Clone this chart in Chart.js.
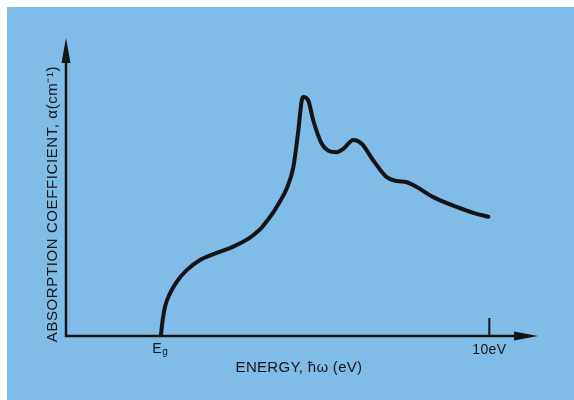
<!DOCTYPE html>
<html>
<head>
<meta charset="utf-8">
<script src="https://cdn.jsdelivr.net/npm/chart.js@4/dist/chart.umd.min.js"></script>
<style>
  html, body { margin: 0; padding: 0; background: #ffffff; }
  #wrap { width: 574px; height: 400px; position: relative; }
</style>
</head>
<body>
<div id="wrap"><canvas id="c" width="574" height="400"></canvas></div>
<script>
// Energy (eV) — band gap Eg and upper labelled energy
const EG = 2.24;
const E_MAX_LABEL = 10;
// Photon energy samples (eV)
const energy = [2.24, 2.284, 2.339, 2.457, 2.615, 2.851, 3.166, 3.560, 3.952, 4.347, 4.505, 4.623,
  4.748, 4.897, 5.056, 5.214, 5.370, 5.488, 5.568, 5.606, 5.724, 5.842, 6.041, 6.197, 6.395,
  6.551, 6.787, 6.986, 7.260, 7.576, 7.812, 8.049, 8.285, 8.677, 9.230, 9.622, 9.976];
// Absorption coefficient (arbitrary units)
const alpha = [0, 5.4, 9.8, 14.3, 18.2, 22.1, 25.5, 27.9, 30.0, 33.0, 34.8, 36.4,
  38.6, 41.5, 45.2, 49.5, 56.7, 69.0, 79.0, 80.2, 79.0, 72.3, 64.5, 62.2, 61.7,
  62.8, 65.8, 64.5, 58.9, 53.3, 52.0, 51.6, 50.0, 46.6, 43.3, 41.3, 40.0];
// Tick labels
const tickValues = [EG, E_MAX_LABEL];
const tickLabels = ['E', '10eV'];
const xTitle = 'ENERGY, ħω (eV)';
const yTitle = 'ABSORPTION COEFFICIENT, α(cm⁻¹)';

const INK = '#141414';
const FONT = '"Liberation Sans", Arial, Helvetica, sans-serif';

const decor = {
  id: 'decor',
  beforeDraw(chart) {
    const ctx = chart.ctx;
    ctx.save();
    ctx.fillStyle = '#ffffff';
    ctx.fillRect(0, 0, chart.width, chart.height);
    ctx.fillStyle = '#80bce8';
    ctx.fillRect(7, 7, chart.width - 7, chart.height - 7);
    ctx.restore();
  },
  afterDraw(chart) {
    const ctx = chart.ctx;
    const xs = chart.scales.x, ys = chart.scales.y;
    const x0 = xs.left, y0 = ys.bottom;
    const xEnd = xs.right, yTop = ys.top;
    ctx.save();
    ctx.strokeStyle = INK;
    ctx.fillStyle = INK;
    ctx.lineWidth = 2.5;
    // axes lines
    ctx.beginPath();
    ctx.moveTo(x0, yTop + 20);
    ctx.lineTo(x0, y0);
    ctx.lineTo(xEnd - 20, y0);
    ctx.stroke();
    // y arrow head
    ctx.beginPath();
    ctx.moveTo(x0, yTop);
    ctx.lineTo(x0 - 4.5, yTop + 25);
    ctx.lineTo(x0 + 4.5, yTop + 25);
    ctx.closePath();
    ctx.fill();
    // x arrow head
    ctx.beginPath();
    ctx.moveTo(xEnd, y0);
    ctx.lineTo(xEnd - 24, y0 - 4.5);
    ctx.lineTo(xEnd - 24, y0 + 4.5);
    ctx.closePath();
    ctx.fill();
    // tick at 10 eV
    const x10 = xs.getPixelForValue(tickValues[1]);
    ctx.lineWidth = 2;
    ctx.beginPath();
    ctx.moveTo(x10, y0 - 18);
    ctx.lineTo(x10, y0);
    ctx.stroke();

    // tick labels
    ctx.textBaseline = 'middle';
    ctx.textAlign = 'center';
    ctx.font = '14px ' + FONT;
    ctx.letterSpacing = '0.3px';
    ctx.fillText(tickLabels[1], x10, y0 + 14);
    const xg = xs.getPixelForValue(tickValues[0]);
    ctx.textAlign = 'right';
    ctx.fillText(tickLabels[0], xg + 1, y0 + 13);
    ctx.font = '10px ' + FONT;
    ctx.textAlign = 'left';
    ctx.fillText('g', xg + 1.5, y0 + 16);

    // axis titles
    ctx.textAlign = 'center';
    ctx.font = '15px ' + FONT;
    ctx.letterSpacing = '0.3px';
    ctx.fillText(xTitle, (x0 + xEnd) / 2 - 3, y0 + 32);
    ctx.save();
    ctx.translate(x0 - 13, (yTop + y0) / 2 + 17);
    ctx.rotate(-Math.PI / 2);
    ctx.font = '15px ' + FONT;
    ctx.letterSpacing = '0.6px';
    ctx.fillText(yTitle, 0, 0);
    ctx.restore();
    ctx.restore();
  }
};

new Chart(document.getElementById('c'), {
  type: 'line',
  data: {
    datasets: [{
      data: energy.map((e, i) => ({ x: e, y: alpha[i] })),
      borderColor: INK,
      borderWidth: 4,
      borderCapStyle: 'round',
      borderJoinStyle: 'round',
      pointRadius: 0,
      fill: false,
      cubicInterpolationMode: 'monotone'
    }]
  },
  options: {
    responsive: false,
    animation: false,
    devicePixelRatio: 1,
    layout: { padding: { left: 66, top: 38, right: 36, bottom: 64 } },
    plugins: { legend: { display: false }, tooltip: { enabled: false } },
    scales: {
      x: { type: 'linear', min: 0, max: 11.15, display: false },
      y: { type: 'linear', min: 0, max: 100, display: false }
    }
  },
  plugins: [decor]
});
</script>
</body>
</html>
